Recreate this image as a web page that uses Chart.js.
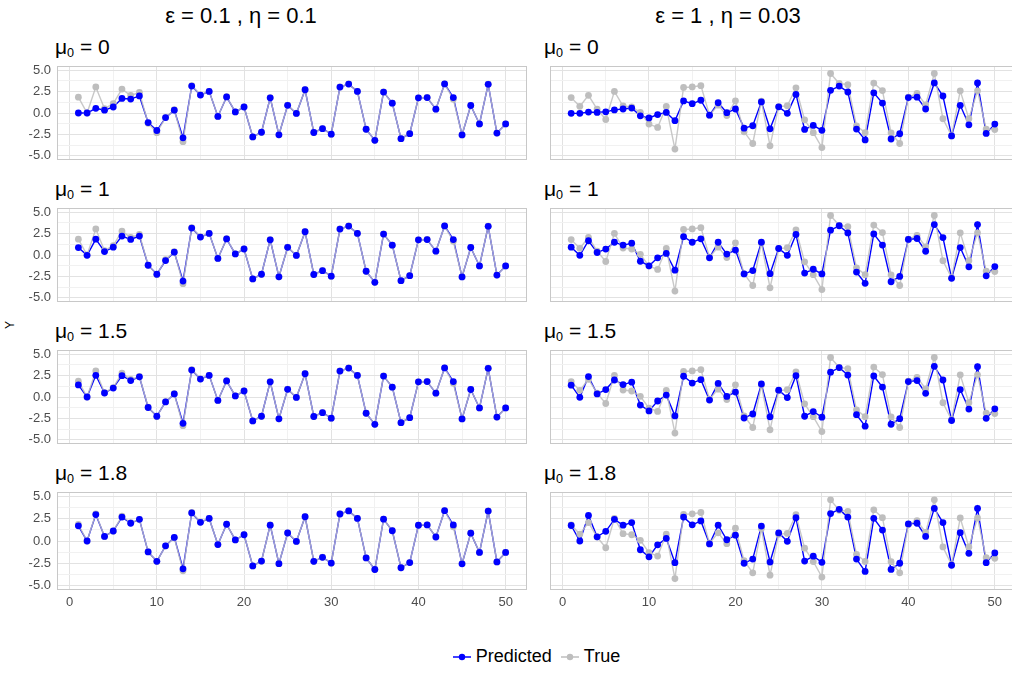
<!DOCTYPE html>
<html>
<head>
<meta charset="utf-8">
<script src="https://cdn.jsdelivr.net/npm/chart.js@4.4.1/dist/chart.umd.min.js"></script>
<style>
  body { margin: 0; background: #fff; width: 1012px; height: 675px; overflow: hidden; position: relative;
         font-family: "Liberation Sans", Arial, sans-serif; }
  canvas { position: absolute; }
  .lbl { position: absolute; white-space: nowrap; color: #000; line-height: 1; }
  .lbl sub { font-size: 0.6em; vertical-align: -0.2em; }
  #legend { position: absolute; left: 0; width: 1080px; top: 646px; display: flex; justify-content: center;
            align-items: center; font-size: 18px; color: #000; }
  #legend span { margin: 0 8px 0 4px; }
</style>
</head>
<body>
<div id="legend">
  <svg width="20" height="12"><line x1="1" y1="6" x2="19" y2="6" stroke="#0000ff" stroke-width="1.5"/><circle cx="10" cy="6" r="3.2" fill="#0000ff"/></svg><span>Predicted</span>
  <svg width="20" height="12"><line x1="1" y1="6" x2="19" y2="6" stroke="#bebebe" stroke-width="1.5"/><circle cx="10" cy="6" r="3.2" fill="#bebebe"/></svg><span>True</span>
</div>
<script>
// x positions (time index)
const xValues = [1,2,3,4,5,6,7,8,9,10,11,12,13,14,15,16,17,18,19,20,21,22,23,24,25,
                 26,27,28,29,30,31,32,33,34,35,36,37,38,39,40,41,42,43,44,45,46,47,48,49,50];
const xTicks = [0, 10, 20, 30, 40, 50];
const xMinorTicks = [5, 15, 25, 35, 45];
const yTicks = [-5, -2.5, 0, 2.5, 5];
const yMinorTicks = [-3.75, -1.25, 1.25, 3.75];

const columnTitles = ['ε = 0.1 , η = 0.1', 'ε = 1 , η = 0.03'];
const muLabels = ['0', '1', '1.5', '1.8'];

// left column: eps = 0.1, eta = 0.1
const trueLeft = [1.85, 0.0, 3.05, 0.5, 1.1, 2.8, 2.05, 2.4, -1.2, -2.3, -0.55, 0.38, -3.35, 3.2, 2.13, 2.53, -0.4, 1.9, 0.13, 0.72,
  -2.8, -2.27, 1.8, -2.55, 0.92, -0.03, 2.72, -2.3, -1.82, -2.5, 3.04, 3.4, 2.54, -1.9, -3.2, 2.46, 1.15, -3.0, -2.42, 1.78,
  1.82, 0.46, 3.4, 1.6, -2.55, 0.9, -1.28, 3.37, -2.35, -1.28];
const predLeftMu0 = [0.0, 0.0, 0.55, 0.33, 0.7, 1.7, 1.63, 2.0, -1.12, -2.05, -0.54, 0.33, -2.9, 3.15, 2.1, 2.53, -0.4, 1.88, 0.12, 0.7,
  -2.8, -2.25, 1.78, -2.55, 0.9, -0.05, 2.72, -2.28, -1.83, -2.48, 3.03, 3.38, 2.53, -1.9, -3.2, 2.45, 1.15, -3.0, -2.42, 1.77,
  1.8, 0.45, 3.4, 1.8, -2.56, 0.88, -1.28, 3.36, -2.35, -1.28];
const predLeftMu1 = [0.87, -0.04, 1.85, 0.4, 0.91, 2.22, 1.82, 2.22, -1.2, -2.25, -0.65, 0.33, -3.05, 3.15, 2.1, 2.53, -0.4, 1.88, 0.12, 0.7,
  -2.8, -2.25, 1.78, -2.55, 0.9, -0.05, 2.72, -2.28, -1.83, -2.48, 3.03, 3.38, 2.53, -1.9, -3.2, 2.45, 1.15, -3.0, -2.42, 1.77,
  1.8, 0.45, 3.4, 1.8, -2.56, 0.88, -1.28, 3.36, -2.35, -1.28];
const predLeftMu15 = [1.41, 0.0, 2.54, 0.47, 1.05, 2.5, 1.92, 2.36, -1.23, -2.25, -0.58, 0.36, -3.08, 3.15, 2.1, 2.53, -0.4, 1.88, 0.12, 0.7,
  -2.8, -2.25, 1.78, -2.55, 0.9, -0.05, 2.72, -2.28, -1.83, -2.48, 3.03, 3.38, 2.53, -1.9, -3.2, 2.45, 1.15, -3.0, -2.42, 1.77,
  1.8, 0.45, 3.4, 1.8, -2.56, 0.88, -1.28, 3.36, -2.35, -1.28];
const predLeftMu18 = [1.7, 0.0, 2.97, 0.51, 1.12, 2.68, 1.99, 2.43, -1.23, -2.28, -0.54, 0.4, -3.12, 3.15, 2.1, 2.53, -0.4, 1.88, 0.12, 0.7,
  -2.8, -2.25, 1.78, -2.55, 0.9, -0.05, 2.72, -2.28, -1.83, -2.48, 3.03, 3.38, 2.53, -1.9, -3.2, 2.45, 1.15, -3.0, -2.42, 1.77,
  1.8, 0.45, 3.4, 1.8, -2.56, 0.88, -1.28, 3.36, -2.35, -1.28];

// right column: eps = 1, eta = 0.03
const trueRight = [1.8, 0.78, 2.07, 0.45, -0.76, 2.53, 0.82, 0.7, 0.08, -1.3, -1.69, 0.76, -4.22, 2.99, 3.05, 3.2, -0.25, 0.92, -0.3, 1.43,
  -2.2, -3.57, 1.4, -3.84, 0.75, 0.85, 2.95, -0.8, -2.3, -4.05, 4.62, 3.45, 3.32, -1.5, -2.3, 3.5, 2.62, -2.32, -3.57, 1.85,
  2.29, 0.96, 4.62, -0.67, -2.67, 2.59, -0.67, 2.59, -1.88, -1.94];
const predRightMu0 = [-0.04, -0.04, 0.11, 0.07, 0.14, 0.36, 0.47, 0.58, -0.33, -0.58, -0.18, 0.07, -0.9, 1.41, 1.09, 1.49, -0.25, 1.2, 0.04, 0.47,
  -1.77, -1.49, 1.3, -1.85, 0.72, -0.04, 2.17, -1.92, -1.45, -2.03, 2.65, 3.15, 2.46, -1.88, -3.15, 2.36, 1.16, -3.04, -2.43, 1.81,
  1.85, 0.47, 3.52, 1.99, -2.68, 0.9, -1.38, 3.52, -2.39, -1.3];
const predRightMu1 = [0.91, -0.04, 1.67, 0.29, 0.69, 1.49, 1.16, 1.38, -0.73, -1.27, -0.33, 0.18, -1.78, 2.15, 1.49, 1.89, -0.33, 1.49, 0.11, 0.58,
  -2.22, -1.82, 1.49, -2.18, 0.76, -0.04, 2.4, -2.11, -1.67, -2.22, 2.91, 3.42, 2.58, -2.0, -3.31, 2.47, 1.16, -3.13, -2.51, 1.82,
  1.93, 0.44, 3.56, 2.04, -2.73, 0.87, -1.38, 3.56, -2.44, -1.35];
const predRightMu15 = [1.38, -0.04, 2.39, 0.36, 0.87, 1.99, 1.45, 1.74, -0.94, -1.63, -0.47, 0.22, -2.21, 2.43, 1.63, 2.03, -0.36, 1.59, 0.07, 0.58,
  -2.46, -1.99, 1.52, -2.32, 0.8, -0.07, 2.5, -2.25, -1.7, -2.36, 2.9, 3.44, 2.57, -2.07, -3.41, 2.46, 1.16, -3.19, -2.54, 1.81,
  1.92, 0.43, 3.59, 1.99, -2.75, 0.87, -1.41, 3.55, -2.5, -1.38];
const predRightMu18 = [1.74, 0.0, 2.86, 0.47, 1.09, 2.43, 1.78, 2.07, -0.98, -1.78, -0.43, 0.29, -2.43, 2.68, 1.81, 2.25, -0.33, 1.78, 0.14, 0.65,
  -2.5, -2.03, 1.67, -2.36, 0.91, -0.04, 2.61, -2.25, -1.7, -2.39, 3.08, 3.55, 2.68, -2.03, -3.41, 2.54, 1.23, -3.19, -2.5, 1.92,
  1.99, 0.51, 3.66, 2.07, -2.72, 0.94, -1.38, 3.66, -2.43, -1.34];

const leftPreds = [predLeftMu0, predLeftMu1, predLeftMu15, predLeftMu18];
const rightPreds = [predRightMu0, predRightMu1, predRightMu15, predRightMu18];

// layout in page pixels
const panelLeft = [57, 546];
const panelW = 473;
const panelTop = [63, 205, 347, 489];
const panelH = 101;
const yAxisW = 44;
const xAxisH = 22;

const panelBorder = {
  id: 'panelBorder',
  afterDatasetsDraw(chart) {
    const a = chart.chartArea, c = chart.ctx;
    c.save();
    c.strokeStyle = '#c8c8c8';
    c.lineWidth = 1;
    c.strokeRect(Math.round(a.left) + 0.5, Math.round(a.top) + 0.5, Math.round(a.width) - 1, Math.round(a.height) - 1);
    c.restore();
  }
};

function addLabel(html, left, top, size, extra) {
  const d = document.createElement('div');
  d.className = 'lbl';
  d.innerHTML = html;
  d.style.left = left + 'px';
  d.style.top = top + 'px';
  d.style.fontSize = size + 'px';
  if (extra) Object.assign(d.style, extra);
  document.body.appendChild(d);
  return d;
}

function gridColor(major) {
  return ctx => (ctx.tick && major.includes(ctx.tick.value)) ? '#e2e2e2' : '#f1f1f1';
}

function makePanel(col, row, pred, truth) {
  const bottom = row === 3;
  const yW = col === 0 ? yAxisW : 0;
  const canvas = document.createElement('canvas');
  const w = yW + panelW + 1;
  const h = 1 + panelH + (bottom ? xAxisH : 0);
  canvas.width = w; canvas.height = h;
  canvas.style.width = w + 'px'; canvas.style.height = h + 'px';
  canvas.style.left = (panelLeft[col] - yW) + 'px';
  canvas.style.top = (panelTop[row] - 1) + 'px';
  document.body.appendChild(canvas);

  const predPts = pred.map((v, i) => ({ x: xValues[i], y: v }));
  const truePts = truth.map((v, i) => ({ x: xValues[i], y: v }));

  new Chart(canvas, {
    type: 'line',
    data: {
      datasets: [
        { label: 'Predicted', data: predPts, showLine: false, pointRadius: 3.4, pointBorderWidth: 0,
          pointBackgroundColor: '#0000ff', borderColor: '#0000ff' },
        { label: 'True', data: truePts, borderColor: 'rgba(190,190,190,0.85)', borderWidth: 1.4,
          pointRadius: 3.4, pointBorderWidth: 0, pointBackgroundColor: '#bebebe' },
        { label: 'Predicted line', data: predPts, borderColor: '#0000ff', borderWidth: 1.4, pointRadius: 0 }
      ]
    },
    options: {
      responsive: false,
      animation: false,
      devicePixelRatio: 1,
      layout: { padding: { top: 1, right: 1, left: 0, bottom: 0 } },
      plugins: { legend: { display: false }, tooltip: { enabled: false } },
      scales: {
        x: {
          type: 'linear', min: -1.45, max: 52.45,
          afterBuildTicks: s => { s.ticks = xTicks.concat(xMinorTicks).sort((a, b) => a - b).map(v => ({ value: v })); },
          afterFit: s => { s.height = bottom ? xAxisH : 0; s.paddingLeft = 0; s.paddingRight = 0; },
          grid: { color: gridColor(xTicks), lineWidth: 1, drawTicks: false },
          border: { display: false },
          ticks: {
            display: bottom, autoSkip: false, maxRotation: 0, padding: 5,
            color: '#4d4d4d', font: { family: '"Liberation Sans", Arial, sans-serif', size: 13 },
            callback: v => xTicks.includes(v) ? String(v) : ''
          }
        },
        y: {
          min: -5.5, max: 5.5,
          afterBuildTicks: s => { s.ticks = yTicks.concat(yMinorTicks).sort((a, b) => a - b).map(v => ({ value: v })); },
          afterFit: s => { s.width = yW; s.paddingTop = 0; s.paddingBottom = 0; },
          grid: { color: gridColor(yTicks), lineWidth: 1, drawTicks: false },
          border: { display: false },
          ticks: {
            display: col === 0, autoSkip: false, padding: 6,
            color: '#4d4d4d', font: { family: '"Liberation Sans", Arial, sans-serif', size: 13 },
            callback: v => yTicks.includes(v) ? v.toFixed(1) : ''
          }
        }
      }
    },
    plugins: [panelBorder]
  });
}

// column titles
const t0 = addLabel(columnTitles[0], 241, 5, 22);
const t1 = addLabel(columnTitles[1], 728, 5, 22);
[t0, t1].forEach(t => { t.style.transform = 'translateX(-50%)'; });

// Y axis title
addLabel('Y', 10, 325, 12, { transform: 'translate(-50%,-50%) rotate(-90deg)' });

for (let row = 0; row < 4; row++) {
  addLabel('μ<sub>0</sub> = ' + muLabels[row], panelLeft[0] - 2, panelTop[row] - 27, 21);
  addLabel('μ<sub>0</sub> = ' + muLabels[row], panelLeft[1] - 2, panelTop[row] - 27, 21);
  makePanel(0, row, leftPreds[row], trueLeft);
  makePanel(1, row, rightPreds[row], trueRight);
}
</script>
</body>
</html>
